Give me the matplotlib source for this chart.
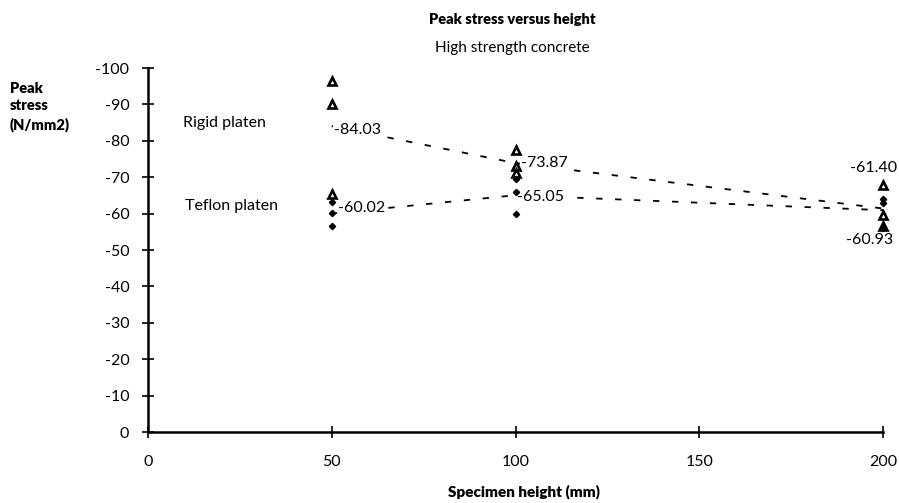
import matplotlib
matplotlib.use("Agg")
import matplotlib.pyplot as plt

# specimen heights (mm) and individual peak stresses (N/mm2)
heights = [50, 100, 200]
rigid_vals = [[-96.5, -90.1, -65.5],
              [-77.5, -73.0, -71.1],
              [-67.9, -59.6, -56.7]]
teflon_vals = [[-63.3, -60.2, -56.6],
               [-69.4, -65.9, -59.85],
               [-64.0, -62.8, -56.0]]
rigid_mean = [-84.03, -73.87, -61.40]
teflon_mean = [-60.02, -65.05, -60.93]

plt.rcParams['font.family'] = ['Lato', 'DejaVu Sans']
plt.rcParams['axes.unicode_minus'] = False

fig = plt.figure(figsize=(8.99, 5.03), dpi=100)
ax = fig.add_axes([148 / 899, 1 - 432 / 503, (883 - 148) / 899, (432 - 68) / 503])

# mean lines
ax.plot(heights, rigid_mean, ls=(0, (3.5, 7)), color='black', lw=1.3, zorder=1)
ax.plot(heights, teflon_mean, ls=(0, (3.5, 7)), color='black', lw=1.3, zorder=1)

# individual specimens
for h, vals in zip(heights, rigid_vals):
    ax.plot([h] * len(vals), vals, ls='none', marker='^', ms=5.5, mfc='white',
            mec='black', mew=1.9, clip_on=False, zorder=4)
for h, vals in zip(heights, teflon_vals):
    ax.plot([h] * len(vals), vals, ls='none', marker='D', ms=3.2, mfc='black',
            mec='black', clip_on=False, zorder=4)

# mean value labels
rigid_offsets = [(2, -4, 'left'), (5, 0, 'left'), (14, 41, 'right')]
teflon_offsets = [(6, 6, 'left'), (2, -2, 'left'), (10, -30, 'right')]
for h, m, (dx, dy, ha) in zip(heights, rigid_mean, rigid_offsets):
    ax.annotate(f'{m:.2f}', (h, m), xytext=(dx, dy), textcoords='offset pixels',
                ha=ha, va='center', fontsize=11.5, zorder=3, annotation_clip=False,
                bbox=dict(boxstyle='square,pad=0.05', fc='white', ec='none'))
for h, m, (dx, dy, ha) in zip(heights, teflon_mean, teflon_offsets):
    ax.annotate(f'{m:.2f}', (h, m), xytext=(dx, dy), textcoords='offset pixels',
                ha=ha, va='center', fontsize=11.5, zorder=3, annotation_clip=False,
                bbox=dict(boxstyle='square,pad=0.05', fc='white', ec='none'))

ax.text(9.5, -84.9, 'Rigid platen', fontsize=11.5, va='center')
ax.text(10.0, -62.0, 'Teflon platen', fontsize=11.5, va='center')

ax.set_xlim(0, 200)
ax.set_ylim(0, -100)
ax.set_xticks([0, 50, 100, 150, 200])
ax.set_yticks(range(0, -101, -10))
ax.tick_params(direction='inout', length=9, width=1.2, labelsize=11.5)
ax.tick_params(axis='y', pad=9)
ax.tick_params(axis='x', pad=12)
for s in ['top', 'right']:
    ax.spines[s].set_visible(False)
for s in ['left', 'bottom']:
    ax.spines[s].set_linewidth(1.8)

fig.text(512 / 899, 1 - 20 / 503, 'Peak stress versus height', ha='center',
         va='center', fontsize=10.5, fontweight='heavy')
fig.text(512 / 899, 1 - 48 / 503, 'High strength concrete', ha='center',
         va='center', fontsize=11)
fig.text(10 / 899, 1 - 107 / 503, 'Peak\nstress\n(N/mm2)', ha='left', va='center',
         fontsize=10.5, fontweight='heavy', linespacing=1.4)
fig.text(524 / 899, 1 - 492 / 503, 'Specimen height (mm)', ha='center', va='center',
         fontsize=11, fontweight='heavy')

fig.savefig('out.png', dpi=100)
